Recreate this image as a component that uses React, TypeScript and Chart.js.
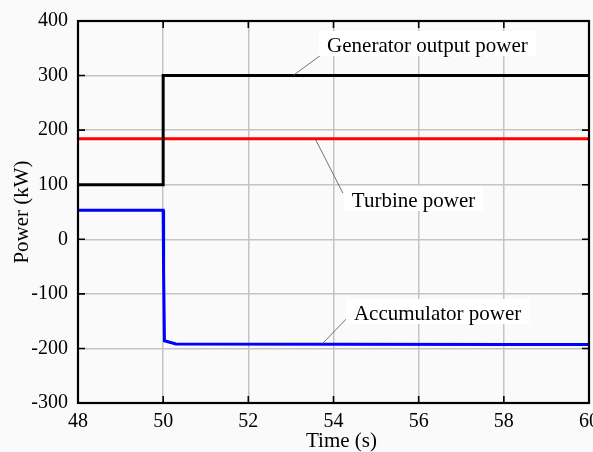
import React, { useEffect, useRef } from "react";
import { Chart, registerables } from "chart.js";

Chart.register(...registerables);

// ---- data ----
const xTicks = [48, 50, 52, 54, 56, 58, 60];
const yTicks = [-300, -200, -100, 0, 100, 200, 300, 400];

const generatorTime = [48, 50, 50, 60];
const generatorPower = [100, 100, 300, 300];

const turbineTime = [48, 60];
const turbinePower = [184, 184];

const accumulatorTime = [48, 50, 50.01, 50.03, 50.3, 58.1, 60];
const accumulatorPower = [53, 53, -60, -186, -192, -193, -193];

const xTitle = "Time (s)";
const yTitle = "Power (kW)";

const annotationLabels = ["Generator output power", "Turbine power", "Accumulator power"];
// leader start (on curve), leader end, text left/baseline — in data units
const annotationPlaces = [
  { from: [53.05, 300], to: [53.8, 343], text: [53.85, 343.2] },
  { from: [53.57, 184], to: [54.22, 84.8], text: [54.43, 59.2] },
  { from: [53.73, -192], to: [54.39, -138.7], text: [54.48, -147.9] },
];

const FONT = "'Liberation Serif', 'Times New Roman', serif";

const toXY = (xs: number[], ys: number[]) => xs.map((x, i) => ({ x, y: ys[i] }));

const framePlugin = {
  id: "frame",
  beforeDraw(chart: any) {
    const { ctx, width, height } = chart;
    ctx.save();
    ctx.fillStyle = "#fafafa";
    ctx.fillRect(0, 0, width, height);
    ctx.restore();
  },
  afterDatasetsDraw(chart: any) {
    const { ctx, chartArea: a, scales } = chart;
    const xs = scales.x;
    const ys = scales.y;
    ctx.save();
    // annotations
    ctx.font = `21px ${FONT}`;
    annotationPlaces.forEach((p, i) => {
      const fx = xs.getPixelForValue(p.from[0]);
      const fy = ys.getPixelForValue(p.from[1]);
      const tx = xs.getPixelForValue(p.to[0]);
      const ty = ys.getPixelForValue(p.to[1]);
      ctx.strokeStyle = "#505050";
      ctx.lineWidth = 0.8;
      ctx.beginPath();
      ctx.moveTo(fx, fy);
      ctx.lineTo(tx, ty);
      ctx.stroke();
      const lx = xs.getPixelForValue(p.text[0]);
      const by = ys.getPixelForValue(p.text[1]);
      const w = ctx.measureText(annotationLabels[i]).width;
      ctx.fillStyle = "#ffffff";
      ctx.fillRect(lx - 8, by - 21, w + 16, 25);
      ctx.fillStyle = "#000000";
      ctx.textBaseline = "alphabetic";
      ctx.textAlign = "left";
      ctx.fillText(annotationLabels[i], lx, by);
    });
    // inward tick marks
    ctx.strokeStyle = "#000";
    ctx.lineWidth = 1.6;
    const tl = 7;
    ctx.beginPath();
    xTicks.forEach((v) => {
      const px = xs.getPixelForValue(v);
      ctx.moveTo(px, a.bottom);
      ctx.lineTo(px, a.bottom - tl);
      ctx.moveTo(px, a.top);
      ctx.lineTo(px, a.top + tl);
    });
    yTicks.forEach((v) => {
      const py = ys.getPixelForValue(v);
      ctx.moveTo(a.left, py);
      ctx.lineTo(a.left + tl, py);
      ctx.moveTo(a.right, py);
      ctx.lineTo(a.right - tl, py);
    });
    ctx.stroke();
    // box
    ctx.lineWidth = 2.2;
    ctx.strokeRect(a.left, a.top, a.right - a.left, a.bottom - a.top);
    // x axis title (slightly right of centre, as in the original)
    ctx.fillStyle = "#000";
    ctx.font = `21px ${FONT}`;
    ctx.textAlign = "center";
    ctx.textBaseline = "alphabetic";
    ctx.fillText(xTitle, (a.left + a.right) / 2 + 8, 447);
    ctx.restore();
  },
};

export default function App() {
  const ref = useRef<HTMLCanvasElement | null>(null);
  useEffect(() => {
    document.body.style.margin = "0";
    document.body.style.background = "#fafafa";
    const chart = new Chart(ref.current as HTMLCanvasElement, {
      type: "line",
      data: {
        datasets: [
          {
            label: "Generator output power",
            data: toXY(generatorTime, generatorPower),
            borderColor: "#000000",
            borderWidth: 3,
            pointRadius: 0,
            tension: 0,
          },
          {
            label: "Turbine power",
            data: toXY(turbineTime, turbinePower),
            borderColor: "#ff0000",
            borderWidth: 3,
            pointRadius: 0,
            tension: 0,
          },
          {
            label: "Accumulator power",
            data: toXY(accumulatorTime, accumulatorPower),
            borderColor: "#0000ff",
            borderWidth: 3,
            pointRadius: 0,
            tension: 0,
          },
        ],
      },
      options: {
        animation: false,
        responsive: true,
        maintainAspectRatio: false,
        layout: { padding: { left: 0, top: 21, right: 4, bottom: 0 } },
        plugins: { legend: { display: false }, tooltip: { enabled: false } },
        scales: {
          x: {
            type: "linear",
            min: 48,
            max: 60,
            afterBuildTicks: (s: any) => {
              s.ticks = xTicks.map((v) => ({ value: v }));
            },
            afterFit: (s: any) => {
              s.height = 49;
              s.paddingRight = 0;
              s.paddingLeft = 0;
            },
            grid: { color: "#c4c4c4", lineWidth: 1.5, drawTicks: false },
            border: { display: false },
            ticks: {
              color: "#000",
              padding: 9,
              font: { family: FONT, size: 20, lineHeight: 1 },
              maxRotation: 0,
              autoSkip: false,
            },
            title: { display: false },
          },
          y: {
            type: "linear",
            min: -300,
            max: 400,
            afterBuildTicks: (s: any) => {
              s.ticks = yTicks.map((v) => ({ value: v }));
            },
            afterFit: (s: any) => {
              s.width = 78;
              s.paddingTop = 0;
              s.paddingBottom = 0;
            },
            grid: { color: "#c4c4c4", lineWidth: 1.5, drawTicks: false },
            border: { display: false },
            ticks: {
              color: "#000",
              padding: 10,
              font: { family: FONT, size: 20, lineHeight: 1 },
              autoSkip: false,
            },
            title: {
              display: true,
              text: yTitle,
              color: "#000",
              font: { family: FONT, size: 21, lineHeight: 1 },
              padding: { top: 12, bottom: 0 },
            },
          },
        },
      },
      plugins: [framePlugin],
    } as any);
    return () => chart.destroy();
  }, []);
  return (
    <div style={{ position: "absolute", left: 0, top: 0, width: 593, height: 452 }}>
      <canvas ref={ref} />
    </div>
  );
}
